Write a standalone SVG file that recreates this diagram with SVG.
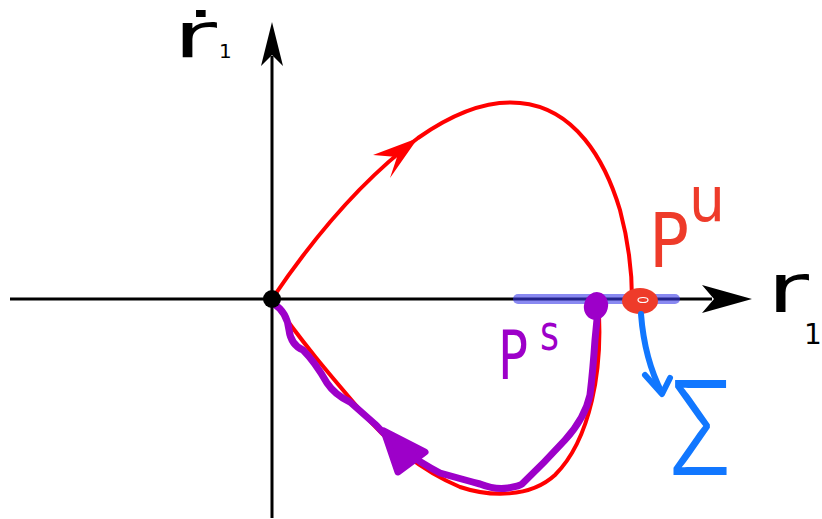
<svg xmlns="http://www.w3.org/2000/svg" width="822" height="519" viewBox="0 0 822 519">
  <style>
    .axis { stroke: #000; stroke-width: 3; fill: none; }
    .lbl { font-family: "DejaVu Sans", "Liberation Sans", sans-serif; }
    .red { stroke: #ff0000; stroke-width: 4; fill: none; stroke-linecap: round; }
    .pur { stroke: #9d00c9; stroke-width: 7; stroke-linecap: round; stroke-linejoin: round; }
    .blu { stroke: #1177ff; stroke-width: 6; fill: none; stroke-linecap: round; stroke-linejoin: round; }
  </style>
  <rect width="822" height="519" fill="#ffffff"/>

  <g id="axes">
    <line class="axis" x1="10" y1="299" x2="712" y2="299"/>
    <polygon points="752,299 702,285 714,299 702,313" fill="#000"/>
    <line class="axis" x1="272" y1="518" x2="272" y2="56"/>
    <polygon points="272,22 283,66 272,55 261,66" fill="#000"/>
    <text class="lbl" x="173" y="57" font-size="62" textLength="44" lengthAdjust="spacingAndGlyphs" fill="#000">ṙ</text>
    <text class="lbl" x="219" y="58" font-size="20" fill="#000">1</text>
    <text class="lbl" x="767" y="312" font-size="68" textLength="42" lengthAdjust="spacingAndGlyphs" fill="#000">r</text>
    <text class="lbl" x="804" y="344" font-size="28" fill="#000">1</text>
  </g>

  <g id="section">
    <line x1="518" y1="299" x2="675" y2="299" stroke="#3a3ae8" stroke-opacity="0.6" stroke-width="10" stroke-linecap="round"/>
  </g>

  <g id="unstable-branch">
    <path class="red" d="M272,299 C305,250 355,185 418,138 C455,112 490,100 520,103 C575,108 605,160 620,210 C628,240 632,270 632,299"/>
    <polygon points="418,138 373,155 397,157 390,178" fill="#ff0000"/>
  </g>

  <g id="stable-branch">
    <path class="red" d="M598,300 C604,370 590,440 555,475 C530,498 490,497 460,487 C420,470 390,445 360,410 C330,375 300,340 272,299"/>
  </g>

  <g id="purple-orbit">
    <path class="pur" fill="none" d="M274,304 Q287,312 289,330 Q291,345 303,350 Q315,362 327,383 Q335,395 350,402 L376,425 Q400,452 440,473 Q465,480 480,484 Q495,490 508,488 Q520,486 522,484 Q545,462 565,440 Q585,418 590,395 Q593,370 595,340 Q597,320 598,308"/>
    <polygon class="pur" points="384,431 398,472 425,452" style="fill:#9d00c9"/>
    <ellipse cx="596" cy="306" rx="12" ry="14" transform="rotate(15 596 306)" fill="#9d00c9"/>
    <text class="lbl" x="498" y="379" font-size="68" textLength="30" lengthAdjust="spacingAndGlyphs" fill="#9d00c9">P</text>
    <text class="lbl" x="540" y="350" font-size="50" textLength="19" lengthAdjust="spacingAndGlyphs" fill="#9d00c9">s</text>
  </g>

  <g id="origin">
    <circle cx="272" cy="299" r="9" fill="#000"/>
  </g>

  <g id="point-pu">
    <ellipse cx="640" cy="301" rx="18" ry="13" fill="#ee3b2a"/>
    <ellipse cx="643" cy="300" rx="5" ry="2.5" fill="none" stroke="#ffffff" stroke-width="1.2"/>
    <text class="lbl" x="649" y="267" font-size="75" textLength="40" lengthAdjust="spacingAndGlyphs" fill="#ee3b2a">P</text>
    <text class="lbl" x="689" y="221" font-size="62" textLength="36" lengthAdjust="spacingAndGlyphs" fill="#ee3b2a">u</text>
  </g>

  <g id="connectors">
    <path class="blu" d="M641,314 C643,340 650,370 662,393"/>
    <path class="blu" d="M645,375 L662,394 L670,378"/>
  </g>

  <g id="sigma">
    <text x="667" y="475" font-family="Inter, Roboto, 'DejaVu Sans', sans-serif" font-weight="300" font-size="130" textLength="66" lengthAdjust="spacingAndGlyphs" fill="#1177ff">Σ</text>
  </g>
</svg>
